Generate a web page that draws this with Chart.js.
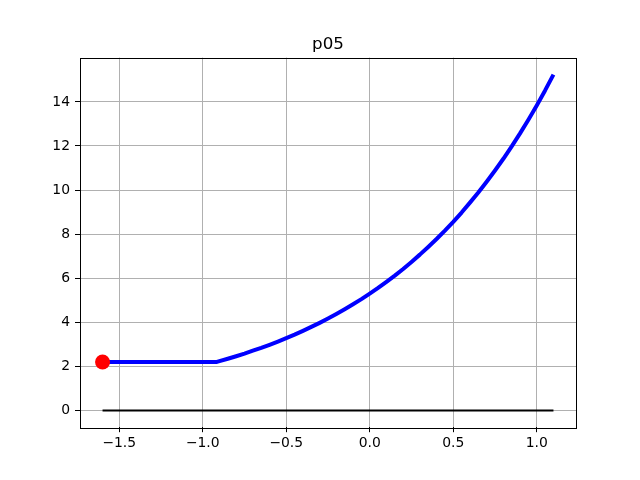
<!DOCTYPE html>
<html>
<head>
<meta charset="utf-8">
<script src="https://cdn.jsdelivr.net/npm/chart.js@4/dist/chart.umd.min.js"></script>
<style>
  body { margin: 0; background: #fff; }
  #wrap { width: 640px; height: 480px; }
</style>
</head>
<body>
<div id="wrap"><canvas id="chart" width="640" height="480"></canvas></div>
<script>
const ctx = document.getElementById("chart");

// curve
const curveX = [-1.6, -1.3, -1.0, -0.915, -0.9, -0.85, -0.8, -0.75, -0.7, -0.65, -0.6, -0.55, -0.5,
                -0.45, -0.4, -0.35, -0.3, -0.25, -0.2, -0.15, -0.1, -0.05, 0.0,
                0.05, 0.1, 0.15, 0.2, 0.25, 0.3, 0.35, 0.4, 0.45, 0.5,
                0.55, 0.6, 0.65, 0.7, 0.75, 0.8, 0.85, 0.9, 0.95, 1.0, 1.05, 1.1];
const curveY = [2.2, 2.2, 2.2, 2.2, 2.235, 2.345, 2.46, 2.58, 2.71, 2.84, 2.98, 3.127, 3.28,
                3.44, 3.61, 3.79, 3.975, 4.17, 4.375, 4.59, 4.815, 5.05, 5.3,
                5.56, 5.835, 6.12, 6.42, 6.74, 7.07, 7.42, 7.78, 8.16, 8.56,
                8.98, 9.43, 9.89, 10.38, 10.89, 11.42, 11.98, 12.57, 13.19, 13.84, 14.52, 15.24];

const baseX = [-1.6, 1.1];
const baseY = [0, 0];

const startX = [-1.6];
const startY = [2.2];

const xTicks = [-1.5, -1.0, -0.5, 0.0, 0.5, 1.0];
const yTicks = [0, 2, 4, 6, 8, 10, 12, 14];

const titleText = "p05";

function toPts(xs, ys) {
  return xs.map((x, i) => ({ x: x, y: ys[i] }));
}

function fmtX(v) {
  let s = v.toFixed(1);
  return s.replace("-", "\u2212");
}

const frame = {
  id: "frame",
  afterDraw(chart) {
    const a = chart.chartArea;
    const c = chart.ctx;
    c.save();
    c.strokeStyle = "#000";
    c.lineWidth = 1;
    c.strokeRect(Math.round(a.left) + 0.5, Math.round(a.top) + 0.5,
                 Math.round(a.right - a.left), Math.round(a.bottom - a.top));
    c.fillStyle = "#000";
    c.font = "16.7px 'DejaVu Sans'";
    c.textAlign = "center";
    c.textBaseline = "alphabetic";
    c.fillText(titleText, (a.left + a.right) / 2, a.top - 9);
    c.restore();
  }
};

new Chart(ctx, {
  type: "scatter",
  data: {
    datasets: [
      {
        data: toPts(startX, startY),
        showLine: false,
        pointRadius: 7.5,
        pointBackgroundColor: "#ff0000",
        pointBorderColor: "#ff0000",
        pointBorderWidth: 0,
        order: 0,
      },
      {
        data: toPts(curveX, curveY),
        showLine: true,
        borderColor: "#0000ff",
        borderWidth: 4,
        borderJoinStyle: "round",
        pointRadius: 0,
        tension: 0,
        order: 1,
      },
      {
        data: toPts(baseX, baseY),
        showLine: true,
        borderColor: "#000000",
        borderWidth: 2,
        pointRadius: 0,
        order: 2,
      },
    ],
  },
  options: {
    responsive: false,
    animation: false,
    events: [],
    layout: { padding: { left: 0, right: 64, top: 57.6, bottom: 0 } },
    plugins: {
      legend: { display: false },
      tooltip: { enabled: false },
      title: { display: false },
    },
    scales: {
      x: {
        type: "linear",
        min: -1.735,
        max: 1.235,
        afterBuildTicks: (s) => { s.ticks = xTicks.map((v) => ({ value: v })); },
        afterFit: (s) => { s.height = 52.8; },
        ticks: {
          callback: (v) => fmtX(v),
          color: "#000",
          font: { family: "DejaVu Sans", size: 13.9 },
          padding: 3,
          maxRotation: 0,
          autoSkip: false,
        },
        grid: { color: "#b0b0b0", lineWidth: 1, tickColor: "#000", tickLength: 5 },
        border: { display: false },
      },
      y: {
        type: "linear",
        min: -0.76,
        max: 16.01,
        afterBuildTicks: (s) => { s.ticks = yTicks.map((v) => ({ value: v })); },
        afterFit: (s) => { s.width = 80; },
        ticks: {
          callback: (v) => String(v),
          color: "#000",
          font: { family: "DejaVu Sans", size: 13.9 },
          padding: 5,
          autoSkip: false,
        },
        grid: { color: "#b0b0b0", lineWidth: 1, tickColor: "#000", tickLength: 5 },
        border: { display: false },
      },
    },
  },
  plugins: [frame],
});
</script>
</body>
</html>
